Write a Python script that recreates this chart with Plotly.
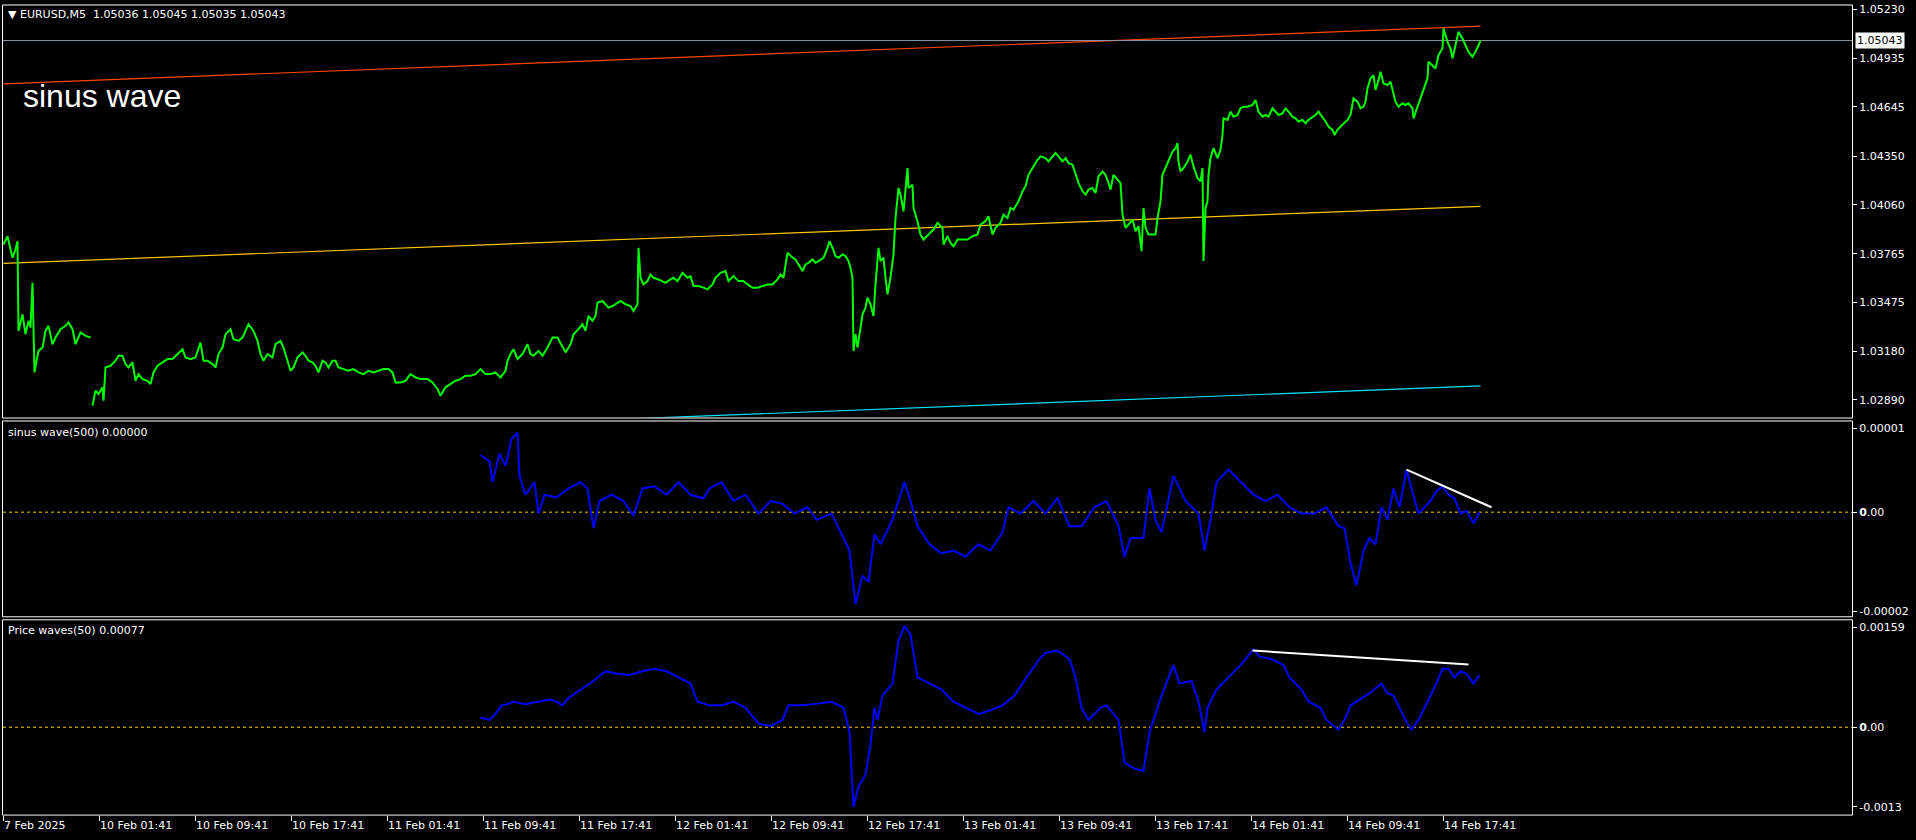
import plotly.graph_objects as go

W, H = 1916, 840

# ---------------- data (bar index = M5 bars since first visible bar) ----------------
# EURUSD M5 close, traced (bar, price); None marks the weekend gap
price_seg_fri = [(0, 1.03821), (4, 1.03871), (9, 1.03742), (12, 1.03791), (14, 1.03841), (15, 1.03304),
                 (19, 1.03403), (22, 1.03284), (25, 1.03364), (27, 1.03324), (29, 1.03592), (30, 1.03204),
                 (31, 1.03055), (33, 1.03125), (35, 1.03184), (39, 1.03204), (42, 1.03304), (45, 1.03334),
                 (49, 1.03224), (52, 1.03264), (57, 1.03314), (62, 1.03334), (65, 1.03354), (69, 1.03314),
                 (72, 1.03224), (77, 1.03294), (82, 1.03274), (87, 1.03264)]
price_seg_mon = [(89, 1.02856), (92, 1.02946), (95, 1.02926), (99, 1.02966), (100, 1.02886), (102, 1.03085),
                 (107, 1.03095), (112, 1.03125), (115, 1.03155), (119, 1.03155), (122, 1.03105), (125, 1.03085),
                 (129, 1.03115), (132, 1.03005), (135, 1.03045), (139, 1.03015), (144, 1.03005), (147, 1.02985),
                 (150, 1.03055), (154, 1.03095), (159, 1.03115), (164, 1.03135), (169, 1.03135), (174, 1.03165),
                 (179, 1.03194), (182, 1.03145), (187, 1.03135), (192, 1.03145), (195, 1.03194), (197, 1.03234),
                 (200, 1.03125), (204, 1.03125), (209, 1.03105), (212, 1.03085), (215, 1.03165), (219, 1.03204),
                 (222, 1.03284), (227, 1.03314), (230, 1.03254), (235, 1.03244), (239, 1.03264), (242, 1.03304),
                 (245, 1.03344), (250, 1.03304), (254, 1.03244), (257, 1.03165), (260, 1.03125), (264, 1.03165),
                 (269, 1.03145), (272, 1.03224), (277, 1.03244), (280, 1.03204), (284, 1.03125), (287, 1.03065),
                 (290, 1.03085), (294, 1.03145), (299, 1.03175), (302, 1.03155), (305, 1.03125), (309, 1.03115),
                 (312, 1.03095), (315, 1.03055), (319, 1.03125), (322, 1.03115), (325, 1.03085), (329, 1.03125),
                 (332, 1.03125), (335, 1.03085), (340, 1.03075), (345, 1.03065), (350, 1.03075), (355, 1.03055),
                 (360, 1.03045), (365, 1.03065), (370, 1.03055), (375, 1.03065), (380, 1.03075), (385, 1.03075),
                 (389, 1.03055), (392, 1.02995), (397, 1.02995), (402, 1.03005), (407, 1.03045), (412, 1.03025),
                 (417, 1.03015), (424, 1.03015), (429, 1.02995), (434, 1.02956), (437, 1.02916), (442, 1.02966),
                 (447, 1.02985), (452, 1.03005), (457, 1.03015), (462, 1.03035), (467, 1.03035), (472, 1.03045),
                 (477, 1.03075), (482, 1.03045), (487, 1.03045), (492, 1.03055), (497, 1.03025)]
price_seg_tue = [(502, 1.03065), (504, 1.03125), (507, 1.03165), (510, 1.03194), (514, 1.03135), (519, 1.03165),
                 (524, 1.03224), (527, 1.03165), (530, 1.03155), (535, 1.03184), (539, 1.03155), (544, 1.03204),
                 (549, 1.03264), (554, 1.03264), (559, 1.03204), (562, 1.03175), (567, 1.03224), (570, 1.03284),
                 (575, 1.03314), (579, 1.03344), (582, 1.03304), (585, 1.03393), (589, 1.03364), (592, 1.03393),
                 (594, 1.03473), (599, 1.03483), (602, 1.03463), (605, 1.03443), (609, 1.03453), (612, 1.03463),
                 (617, 1.03483), (622, 1.03463), (627, 1.03453), (630, 1.03423), (634, 1.03463), (635, 1.03801),
                 (637, 1.03622), (640, 1.03582), (644, 1.03602), (647, 1.03642), (650, 1.03622), (655, 1.03612),
                 (662, 1.03592), (667, 1.03612), (670, 1.03622), (674, 1.03602), (679, 1.03652), (684, 1.03622),
                 (687, 1.03632), (690, 1.03573), (695, 1.03573), (700, 1.03563), (704, 1.03553), (709, 1.03582),
                 (712, 1.03622), (717, 1.03652), (722, 1.03662), (725, 1.03602), (730, 1.03632), (735, 1.03602),
                 (740, 1.03602), (744, 1.03582), (749, 1.03563), (754, 1.03563), (759, 1.03573), (764, 1.03582),
                 (769, 1.03582), (774, 1.03612), (777, 1.03642), (780, 1.03622), (784, 1.03772), (789, 1.03742),
                 (792, 1.03732), (795, 1.03702), (799, 1.03662), (802, 1.03702), (805, 1.03712), (809, 1.03732),
                 (812, 1.03712), (815, 1.03722), (820, 1.03742), (824, 1.03801), (826, 1.03841), (829, 1.03801),
                 (832, 1.03752), (835, 1.03742), (839, 1.03762), (842, 1.03752), (845, 1.03722), (847, 1.03682),
                 (849, 1.03622), (850, 1.03184), (852, 1.03284), (854, 1.03204), (857, 1.03324), (859, 1.03403),
                 (862, 1.03443), (864, 1.03503), (867, 1.03463), (870, 1.03393), (872, 1.03582), (874, 1.03722),
                 (875, 1.03801), (877, 1.03722), (880, 1.03742), (882, 1.03622), (884, 1.03523), (887, 1.03622),
                 (889, 1.03702), (890, 1.03762), (892, 1.03980), (895, 1.04160), (897, 1.04120), (900, 1.04020),
                 (904, 1.04279), (905, 1.04160), (909, 1.04179), (910, 1.04040), (914, 1.03961), (917, 1.03881),
                 (920, 1.03851), (925, 1.03881), (930, 1.03911), (934, 1.03951), (939, 1.03921), (940, 1.03821),
                 (944, 1.03871), (947, 1.03831), (950, 1.03811), (954, 1.03851), (959, 1.03851), (964, 1.03851),
                 (969, 1.03871), (974, 1.03881), (977, 1.03941), (982, 1.03961), (985, 1.03990), (989, 1.03881),
                 (992, 1.03921), (997, 1.03951)]
price_seg_thu = [(1000, 1.04000), (1004, 1.03980), (1007, 1.04040), (1010, 1.04030), (1015, 1.04080), (1019, 1.04140),
                 (1022, 1.04170), (1025, 1.04239), (1029, 1.04279), (1034, 1.04329), (1037, 1.04349), (1042, 1.04339),
                 (1045, 1.04319), (1049, 1.04349), (1052, 1.04369), (1055, 1.04349), (1059, 1.04319), (1062, 1.04339),
                 (1065, 1.04309), (1069, 1.04299), (1072, 1.04239), (1075, 1.04189), (1079, 1.04140), (1082, 1.04120),
                 (1085, 1.04150), (1089, 1.04160), (1092, 1.04130), (1095, 1.04229), (1099, 1.04259), (1102, 1.04239),
                 (1105, 1.04189), (1107, 1.04150), (1110, 1.04239), (1114, 1.04209), (1117, 1.04189), (1119, 1.04000),
                 (1122, 1.03921), (1125, 1.03941), (1129, 1.03971), (1132, 1.03901), (1135, 1.03931), (1138, 1.03781),
                 (1140, 1.04040), (1142, 1.03921), (1145, 1.03881), (1149, 1.03881), (1152, 1.03881), (1154, 1.03980),
                 (1157, 1.04080), (1159, 1.04239), (1162, 1.04279), (1165, 1.04319), (1169, 1.04378), (1172, 1.04398),
                 (1174, 1.04428), (1175, 1.04319), (1177, 1.04259), (1180, 1.04279), (1184, 1.04319), (1187, 1.04359),
                 (1190, 1.04289), (1194, 1.04219), (1197, 1.04199), (1199, 1.04279), (1200, 1.03722), (1202, 1.04040),
                 (1204, 1.04080), (1205, 1.04239), (1207, 1.04339), (1210, 1.04398), (1214, 1.04339), (1217, 1.04388),
                 (1219, 1.04478), (1220, 1.04577), (1224, 1.04568), (1227, 1.04617), (1230, 1.04587), (1234, 1.04597),
                 (1237, 1.04637), (1240, 1.04647), (1244, 1.04647), (1249, 1.04657), (1252, 1.04687), (1255, 1.04617),
                 (1259, 1.04587), (1262, 1.04597), (1265, 1.04587), (1269, 1.04637), (1272, 1.04617), (1275, 1.04597),
                 (1279, 1.04607), (1282, 1.04637), (1285, 1.04617), (1289, 1.04587), (1292, 1.04577), (1295, 1.04558),
                 (1299, 1.04568), (1302, 1.04548), (1305, 1.04568), (1309, 1.04587), (1312, 1.04597), (1315, 1.04617),
                 (1319, 1.04587), (1322, 1.04558), (1325, 1.04528), (1329, 1.04508), (1331, 1.04478), (1334, 1.04508),
                 (1337, 1.04528), (1340, 1.04548), (1344, 1.04568), (1347, 1.04597), (1349, 1.04657), (1350, 1.04697),
                 (1354, 1.04677), (1357, 1.04637), (1360, 1.04647), (1362, 1.04677), (1364, 1.04757), (1367, 1.04816),
                 (1370, 1.04836), (1372, 1.04747), (1375, 1.04806), (1377, 1.04856), (1380, 1.04786), (1384, 1.04776),
                 (1387, 1.04796), (1390, 1.04727), (1392, 1.04677), (1395, 1.04647), (1399, 1.04667), (1402, 1.04657),
                 (1405, 1.04667), (1409, 1.04637), (1410, 1.04577), (1414, 1.04647), (1417, 1.04697), (1420, 1.04737),
                 (1424, 1.04816), (1425, 1.04916), (1429, 1.04896), (1432, 1.04876), (1435, 1.04956), (1439, 1.04995),
                 (1440, 1.05115), (1444, 1.05035), (1447, 1.04995), (1449, 1.04936), (1452, 1.05015), (1455, 1.05095),
                 (1459, 1.05055), (1462, 1.05015), (1465, 1.04975), (1469, 1.04946), (1472, 1.04975), (1475, 1.05015),
                 (1477, 1.05043)]

last_price = 1.05043
header_ohlc = "1.05036 1.05045 1.05035 1.05043"

# Standard-deviation channel objects (bar, price at start / end)
channel_bars = [0, 1477]
channel_upper = [1.04784, 1.05129]
channel_mid = [1.03708, 1.04050]
channel_lower = [1.02632, 1.02974]

# sinus wave(500) indicator (bar, value in 1e-6)
sinus_pts = [(477, 8.2), (486, 7.3), (489, 4.3), (496, 8.4), (502, 6.6), (508, 10.5), (514, 11.4), (516, 5.2),
             (522, 2.5), (531, 4.3), (535, -0.2), (541, 2.5), (553, 2.1), (565, 3.4), (577, 4.3), (584, 3.4),
             (590, -2.3), (596, 1.6), (608, 2.5), (620, 1.6), (630, -0.5), (639, 3.4), (651, 3.7), (663, 2.5),
             (675, 4.3), (687, 2.5), (700, 2.0), (706, 3.4), (718, 4.3), (730, 1.6), (742, 2.5), (755, -0.2),
             (767, 1.6), (779, 1.2), (791, -0.2), (804, 0.7), (813, -1.1), (828, -0.2), (840, -3.7), (846, -5.5),
             (852, -13.2), (859, -9.1), (865, -10.0), (871, -3.2), (877, -4.6), (889, -1.1), (901, 4.3), (907, 1.6),
             (914, -2.0), (926, -4.6), (938, -5.9), (950, -5.5), (962, -6.4), (975, -4.6), (987, -5.5), (999, -2.9),
             (1005, 0.7), (1017, -0.2), (1030, 1.6), (1042, -0.2), (1054, 2.0), (1066, -2.0), (1078, -2.0),
             (1091, 0.7), (1103, 1.6), (1115, -2.0), (1121, -6.4), (1127, -3.7), (1140, -3.7), (1146, 3.4),
             (1152, -1.1), (1158, -2.9), (1170, 5.2), (1182, 1.6), (1195, -0.2), (1201, -5.5), (1207, -1.1),
             (1213, 4.3), (1225, 6.1), (1237, 4.3), (1250, 2.5), (1262, 1.6), (1274, 2.5), (1286, 0.7), (1298, -0.2),
             (1311, -0.2), (1323, 0.7), (1335, -2.0), (1341, -2.3), (1347, -7.3), (1353, -10.5), (1360, -5.5),
             (1366, -3.7), (1372, -4.6), (1378, 0.7), (1384, -1.1), (1390, 3.4), (1396, 0.7), (1403, 6.1),
             (1408, 3.4), (1415, -0.2), (1421, 0.7), (1427, 1.6), (1433, 3.0), (1439, 3.7), (1445, 2.5), (1451, 2.0),
             (1457, -0.2), (1463, 0.2), (1470, -1.6), (1476, 0.0)]
sinus_trend_bars = [1403, 1488]
sinus_trend_vals = [6.1, 0.7]          # 1e-6
sinus_range = [-15.0, 13.0]             # 1e-6
sinus_tick_vals = [12.0, 0.0, -14.2]    # 1e-6
sinus_tick_text = ["0.00001", "<b>0</b>.00", "-0.00002"]

# Price waves(50) indicator (bar, value)
waves_pts = [(477, 0.000144), (486, 0.000108), (492, 0.000198), (498, 0.000324), (504, 0.000342), (510, 0.000378),
             (522, 0.000342), (535, 0.000378), (547, 0.000414), (553, 0.000378), (559, 0.000324), (565, 0.000432),
             (577, 0.000558), (590, 0.000684), (602, 0.000828), (614, 0.000792), (626, 0.000774), (639, 0.000828),
             (651, 0.000864), (663, 0.000828), (675, 0.000738), (687, 0.000648), (694, 0.000378), (706, 0.000324),
             (718, 0.000324), (730, 0.000378), (742, 0.000288), (755, 0.000054), (767, 0.000018), (779, 0.000108),
             (785, 0.000324), (797, 0.000324), (810, 0.000342), (828, 0.000378), (840, 0.000288), (846, -0.000072),
             (850, -0.001180), (855, -0.000882), (862, -0.000702), (867, -0.000252), (871, 0.000288), (874, 0.000108),
             (879, 0.000468), (889, 0.000648), (895, 0.001279), (901, 0.001500), (907, 0.001369), (914, 0.000738),
             (926, 0.000648), (938, 0.000558), (950, 0.000378), (962, 0.000288), (975, 0.000198), (987, 0.000252),
             (999, 0.000324), (1011, 0.000468), (1023, 0.000738), (1036, 0.001009), (1042, 0.001099),
             (1054, 0.001135), (1066, 0.001009), (1072, 0.000738), (1078, 0.000288), (1085, 0.000108),
             (1097, 0.000288), (1103, 0.000324), (1115, 0.000108), (1121, -0.000522), (1131, -0.000612),
             (1140, -0.000648), (1146, -0.000072), (1152, 0.000198), (1158, 0.000468), (1170, 0.000919),
             (1176, 0.000648), (1188, 0.000684), (1195, 0.000378), (1201, -0.000072), (1204, 0.000288),
             (1213, 0.000558), (1225, 0.000738), (1237, 0.000919), (1250, 0.001153), (1256, 0.001045),
             (1268, 0.001009), (1280, 0.000919), (1286, 0.000738), (1292, 0.000648), (1298, 0.000558),
             (1305, 0.000378), (1317, 0.000288), (1323, 0.000108), (1335, -0.000036), (1341, 0.000108),
             (1347, 0.000324), (1353, 0.000378), (1366, 0.000504), (1378, 0.000648), (1384, 0.000504),
             (1390, 0.000468), (1396, 0.000288), (1402, 0.000108), (1408, -0.000036), (1415, 0.000108),
             (1421, 0.000288), (1427, 0.000468), (1433, 0.000648), (1439, 0.000864), (1445, 0.000864),
             (1451, 0.000738), (1457, 0.000828), (1463, 0.000792), (1470, 0.000648), (1476, 0.000770)]
waves_trend_bars = [1249, 1465]
waves_trend_vals = [0.001135, 0.000929]
waves_range = [-0.00130, 0.00159]
waves_tick_vals = [0.001474, 0.0, -0.001179]
waves_tick_text = ["0.00159", "<b>0</b>.00", "-0.0013"]

# axes
price_range = [1.02785, 1.05256]
price_ticks = [1.05230, 1.04935, 1.04645, 1.04350, 1.04060, 1.03765, 1.03475, 1.03180, 1.02890]
time_tick_bars = [0, 96, 192, 288, 384, 480, 576, 672, 768, 864, 960, 1056, 1152, 1248, 1344, 1440]
time_tick_text = ["7 Feb 2025", "10 Feb 01:41", "10 Feb 09:41", "10 Feb 17:41", "11 Feb 01:41",
                  "11 Feb 09:41", "11 Feb 17:41", "12 Feb 01:41", "12 Feb 09:41", "12 Feb 17:41",
                  "13 Feb 01:41", "13 Feb 09:41", "13 Feb 17:41", "14 Feb 01:41", "14 Feb 09:41",
                  "14 Feb 17:41"]
bar_range = [-0.5, 1848.5]

# ---------------- figure ----------------
def px_y(py):
    return 1 - py / H


def px_x(px):
    return px / W


FONT = "DejaVu Sans"
GREEN = "#00FF00"
BLUE = "#0000FF"
LEVEL = "#FFC800"

fig = go.Figure()

price_x, price_y = [], []
for seg in (price_seg_fri, [None], price_seg_mon + price_seg_tue + price_seg_thu):
    for p in seg:
        if p is None:
            price_x.append(None)
            price_y.append(None)
        else:
            price_x.append(p[0])
            price_y.append(p[1])

# channel lines
fig.add_trace(go.Scatter(x=channel_bars, y=channel_upper, mode="lines", line=dict(color="#FF4500", width=1.2),
                         xaxis="x", yaxis="y", hoverinfo="skip"))
fig.add_trace(go.Scatter(x=channel_bars, y=channel_mid, mode="lines", line=dict(color="#FFC800", width=1.2),
                         xaxis="x", yaxis="y", hoverinfo="skip"))
fig.add_trace(go.Scatter(x=channel_bars, y=channel_lower, mode="lines", line=dict(color="#00E5FF", width=1.2),
                         xaxis="x", yaxis="y", hoverinfo="skip"))
# current price line
fig.add_trace(go.Scatter(x=bar_range, y=[last_price, last_price], mode="lines",
                         line=dict(color="#8A97A8", width=1), xaxis="x", yaxis="y", hoverinfo="skip"))
# price
fig.add_trace(go.Scatter(x=price_x, y=price_y, mode="lines", line=dict(color=GREEN, width=2),
                         connectgaps=False, xaxis="x", yaxis="y"))

# sinus wave panel
fig.add_trace(go.Scatter(x=bar_range, y=[0, 0], mode="lines", line=dict(color=LEVEL, width=1, dash="3px,3px"),
                         xaxis="x", yaxis="y2", hoverinfo="skip"))
fig.add_trace(go.Scatter(x=[p[0] for p in sinus_pts], y=[p[1] * 1e-6 for p in sinus_pts], mode="lines",
                         line=dict(color=BLUE, width=2), xaxis="x", yaxis="y2"))
fig.add_trace(go.Scatter(x=sinus_trend_bars, y=[v * 1e-6 for v in sinus_trend_vals], mode="lines",
                         line=dict(color="white", width=2), xaxis="x", yaxis="y2"))

# price waves panel
fig.add_trace(go.Scatter(x=bar_range, y=[0, 0], mode="lines", line=dict(color=LEVEL, width=1, dash="3px,3px"),
                         xaxis="x", yaxis="y3", hoverinfo="skip"))
fig.add_trace(go.Scatter(x=[p[0] for p in waves_pts], y=[p[1] for p in waves_pts], mode="lines",
                         line=dict(color=BLUE, width=2), xaxis="x", yaxis="y3"))
fig.add_trace(go.Scatter(x=waves_trend_bars, y=waves_trend_vals, mode="lines",
                         line=dict(color="white", width=2), xaxis="x", yaxis="y3"))

yax_common = dict(side="right", anchor="x", showgrid=False, zeroline=False, showline=False,
                  ticks="outside", ticklen=4, tickcolor="white", tickwidth=1,
                  tickfont=dict(family=FONT, size=11, color="white"), fixedrange=True)

fig.update_layout(
    width=W, height=H, margin=dict(l=0, r=0, t=0, b=0),
    paper_bgcolor="black", plot_bgcolor="black", showlegend=False,
    xaxis=dict(domain=[px_x(3), px_x(1852)], range=bar_range, anchor="y3", showgrid=False, zeroline=False,
               showline=False, ticks="outside", ticklen=5, tickcolor="white",
               tickvals=time_tick_bars, ticktext=time_tick_text, ticklabelposition="outside right",
               tickfont=dict(family=FONT, size=11, color="white")),
    yaxis=dict(domain=[px_y(417), px_y(3)], range=price_range, tickvals=price_ticks,
               ticktext=["%.5f" % v for v in price_ticks], **yax_common),
    yaxis2=dict(domain=[px_y(617), px_y(421)], range=[v * 1e-6 for v in sinus_range],
                tickvals=[v * 1e-6 for v in sinus_tick_vals], ticktext=sinus_tick_text, **yax_common),
    yaxis3=dict(domain=[px_y(816), px_y(620)], range=waves_range,
                tickvals=waves_tick_vals, ticktext=waves_tick_text, **yax_common),
)

# panel frames
for top, bot in [(3, 417.5), (420.5, 617), (620, 816)]:
    fig.add_shape(type="rect", xref="paper", yref="paper", x0=px_x(2.5), x1=px_x(1852.5),
                  y0=px_y(bot), y1=px_y(top), line=dict(color="white", width=1), fillcolor="rgba(0,0,0,0)",
                  layer="above")

NB = "\u00a0"
fig.add_annotation(xref="paper", yref="paper", x=px_x(6), y=px_y(13), xanchor="left", yanchor="middle",
                   text="▼" + NB + "EURUSD,M5" + NB + NB + header_ohlc, showarrow=False,
                   font=dict(family=FONT, size=11, color="white"))
fig.add_annotation(xref="paper", yref="paper", x=px_x(21), y=px_y(94), xanchor="left", yanchor="middle",
                   text="sinus wave", showarrow=False,
                   font=dict(family="Liberation Sans", size=32, color="white"))
fig.add_annotation(xref="paper", yref="paper", x=px_x(6), y=px_y(432), xanchor="left", yanchor="middle",
                   text="sinus wave(500) 0.00000", showarrow=False,
                   font=dict(family=FONT, size=11, color="white"))
fig.add_annotation(xref="paper", yref="paper", x=px_x(6), y=px_y(631), xanchor="left", yanchor="middle",
                   text="Price waves(50) %.5f" % waves_pts[-1][1], showarrow=False,
                   font=dict(family=FONT, size=11, color="white"))
fig.add_annotation(xref="paper", yref="y", x=px_x(1855), y=last_price, xanchor="left", yanchor="middle",
                   text="%.5f" % last_price, showarrow=False, bgcolor="white", borderpad=1,
                   font=dict(family=FONT, size=11, color="black"))

fig.write_html("out.html", config={"displayModeBar": False},
               post_script="document.body.style.margin='0';document.body.style.overflow='hidden';")
